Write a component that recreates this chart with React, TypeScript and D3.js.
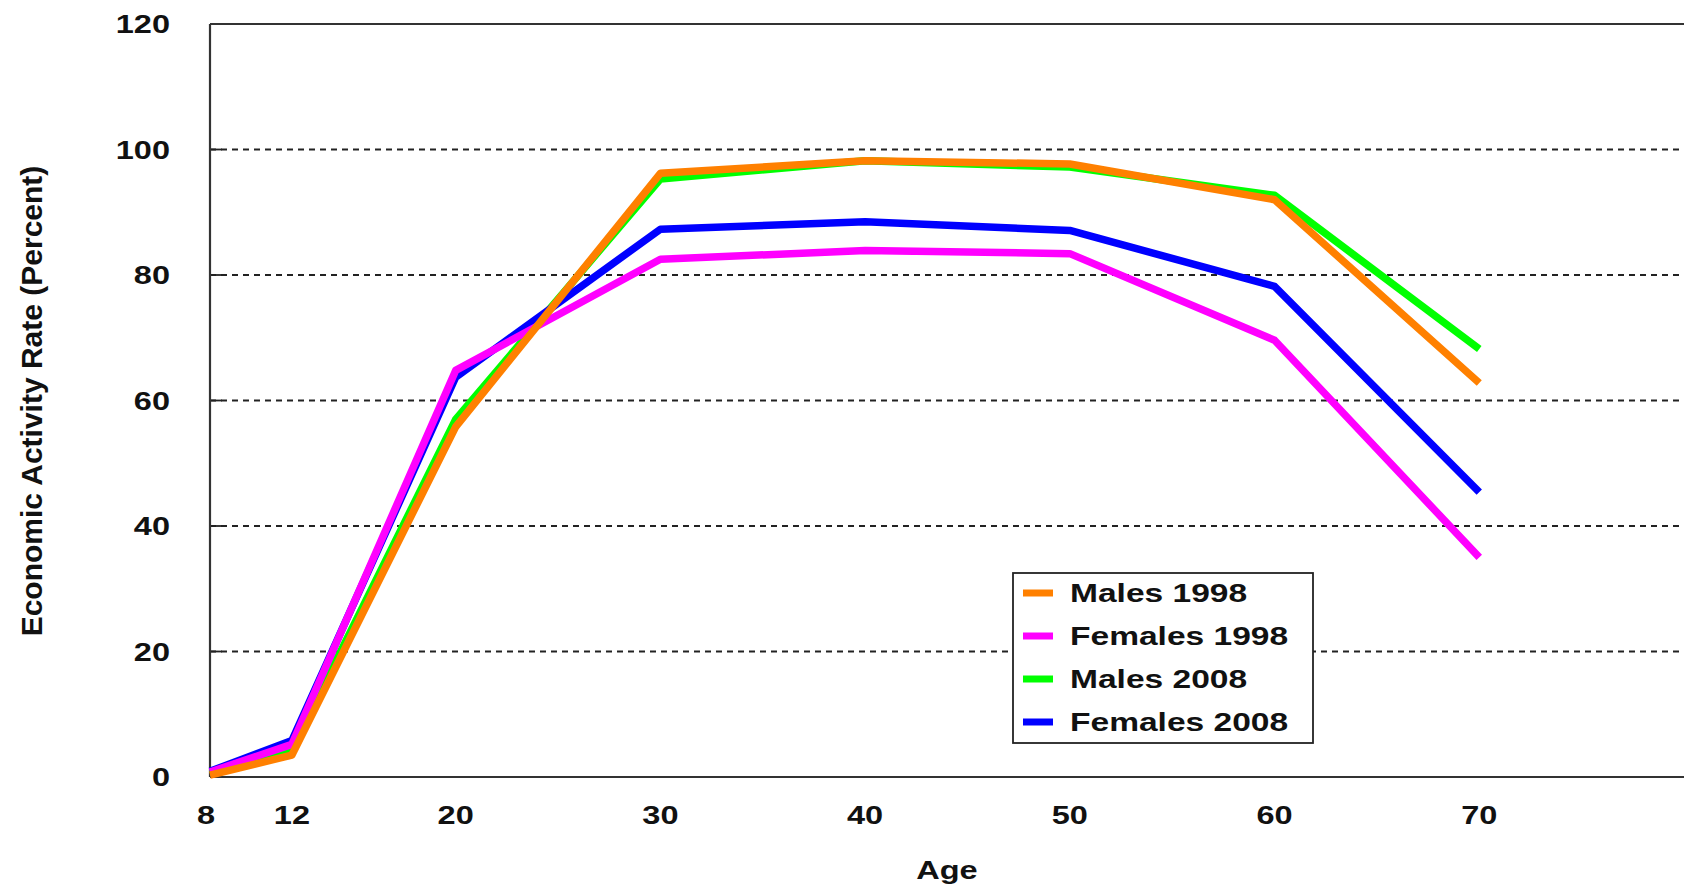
import React from "react";
import * as d3 from "d3";

const ages = [8, 12, 20, 30, 40, 50, 60, 70];
const males1998 = [0.3, 3.5, 55.8, 96.2, 98.2, 97.7, 92.0, 62.8];
const females1998 = [0.8, 5.2, 64.8, 82.5, 83.9, 83.4, 69.6, 35.0];
const males2008 = [0.6, 4.3, 57.0, 95.3, 98.2, 97.2, 92.7, 68.2];
const females2008 = [0.9, 5.8, 63.7, 87.3, 88.5, 87.1, 78.2, 45.4];

const xTicks = [8, 12, 20, 30, 40, 50, 60, 70];
const yTicks = [0, 20, 40, 60, 80, 100, 120];

const seriesNames = ["Males 1998", "Females 1998", "Males 2008", "Females 2008"];
const seriesColors = ["#FF8000", "#FF00FF", "#00FF00", "#0000FF"];
const seriesValues = [males1998, females1998, males2008, females2008];
const drawOrder = [2, 3, 1, 0];

const W = 1684;
const H = 887;
const SX = 1.25;
const FONT = "'Liberation Sans', Arial, sans-serif";

export default function App() {
  const x = d3.scaleLinear().domain([8, 80]).range([210, 1684]);
  const y = d3.scaleLinear().domain([0, 120]).range([777, 24]);
  const line = d3
    .line<number>()
    .x((_, i) => x(ages[i]))
    .y((v) => y(v));

  const legX = 1013;
  const legY = 573;
  const legRow = 43;

  return (
    <svg
      width={W}
      height={H}
      style={{ position: "absolute", left: 0, top: 0, background: "#fff" }}
      fontFamily={FONT}
    >
      {/* gridlines */}
      {yTicks
        .filter((t) => t > 0 && t < 120)
        .map((t) => (
          <g key={"g" + t}>
            <line
              x1={x(8)}
              x2={W}
              y1={y(t)}
              y2={y(t)}
              stroke="#222"
              strokeWidth={1.8}
              strokeDasharray="6 5"
            />
            <line x1={x(8)} x2={x(8) + 12} y1={y(t)} y2={y(t)} stroke="#222" strokeWidth={1.8} />
          </g>
        ))}
      {/* frame */}
      <line x1={x(8)} x2={W} y1={y(120)} y2={y(120)} stroke="#333" strokeWidth={2} />
      <line x1={x(8)} x2={W} y1={y(0)} y2={y(0)} stroke="#333" strokeWidth={2.2} />
      <line x1={x(8)} x2={x(8)} y1={y(120)} y2={y(0)} stroke="#333" strokeWidth={2.2} />

      {/* y tick labels */}
      {yTicks.map((t) => (
        <text
          key={"y" + t}
          transform={`translate(170,${y(t)}) scale(${SX},1)`}
          textAnchor="end"
          dy="0.36em"
          fontSize={26}
          fontWeight="bold"
          fill="#111"
        >
          {t}
        </text>
      ))}
      {/* x tick labels */}
      {xTicks.map((t) => (
        <text
          key={"x" + t}
          transform={`translate(${x(t) - (t === 8 ? 4 : 0)},824) scale(${SX},1)`}
          textAnchor="middle"
          fontSize={26}
          fontWeight="bold"
          fill="#111"
        >
          {t}
        </text>
      ))}
      {/* axis titles */}
      <text
        transform={`translate(947,879) scale(${SX},1)`}
        textAnchor="middle"
        fontSize={26}
        fontWeight="bold"
        fill="#111"
      >
        Age
      </text>
      <text
        transform={`translate(42,401) rotate(-90)`}
        textAnchor="middle"
        fontSize={30}
        fontWeight="bold"
        fill="#111"
      >
        Economic Activity Rate (Percent)
      </text>

      {/* series */}
      {drawOrder.map((i) => (
        <path
          key={"s" + i}
          d={line(seriesValues[i]) || ""}
          fill="none"
          stroke={seriesColors[i]}
          strokeWidth={7.5}
          strokeLinejoin="round"
        />
      ))}

      {/* legend */}
      <rect
        x={legX}
        y={legY}
        width={300}
        height={170}
        fill="#fff"
        stroke="#222"
        strokeWidth={1.8}
      />
      {seriesNames.map((n, i) => (
        <g key={"l" + i}>
          <line
            x1={legX + 10}
            x2={legX + 40}
            y1={legY + 20 + i * legRow}
            y2={legY + 20 + i * legRow}
            stroke={seriesColors[i]}
            strokeWidth={7}
          />
          <text
            transform={`translate(${legX + 57},${legY + 29 + i * legRow}) scale(1.29,1)`}
            fontSize={26}
            fontWeight="bold"
            fill="#111"
          >
            {n}
          </text>
        </g>
      ))}
    </svg>
  );
}
